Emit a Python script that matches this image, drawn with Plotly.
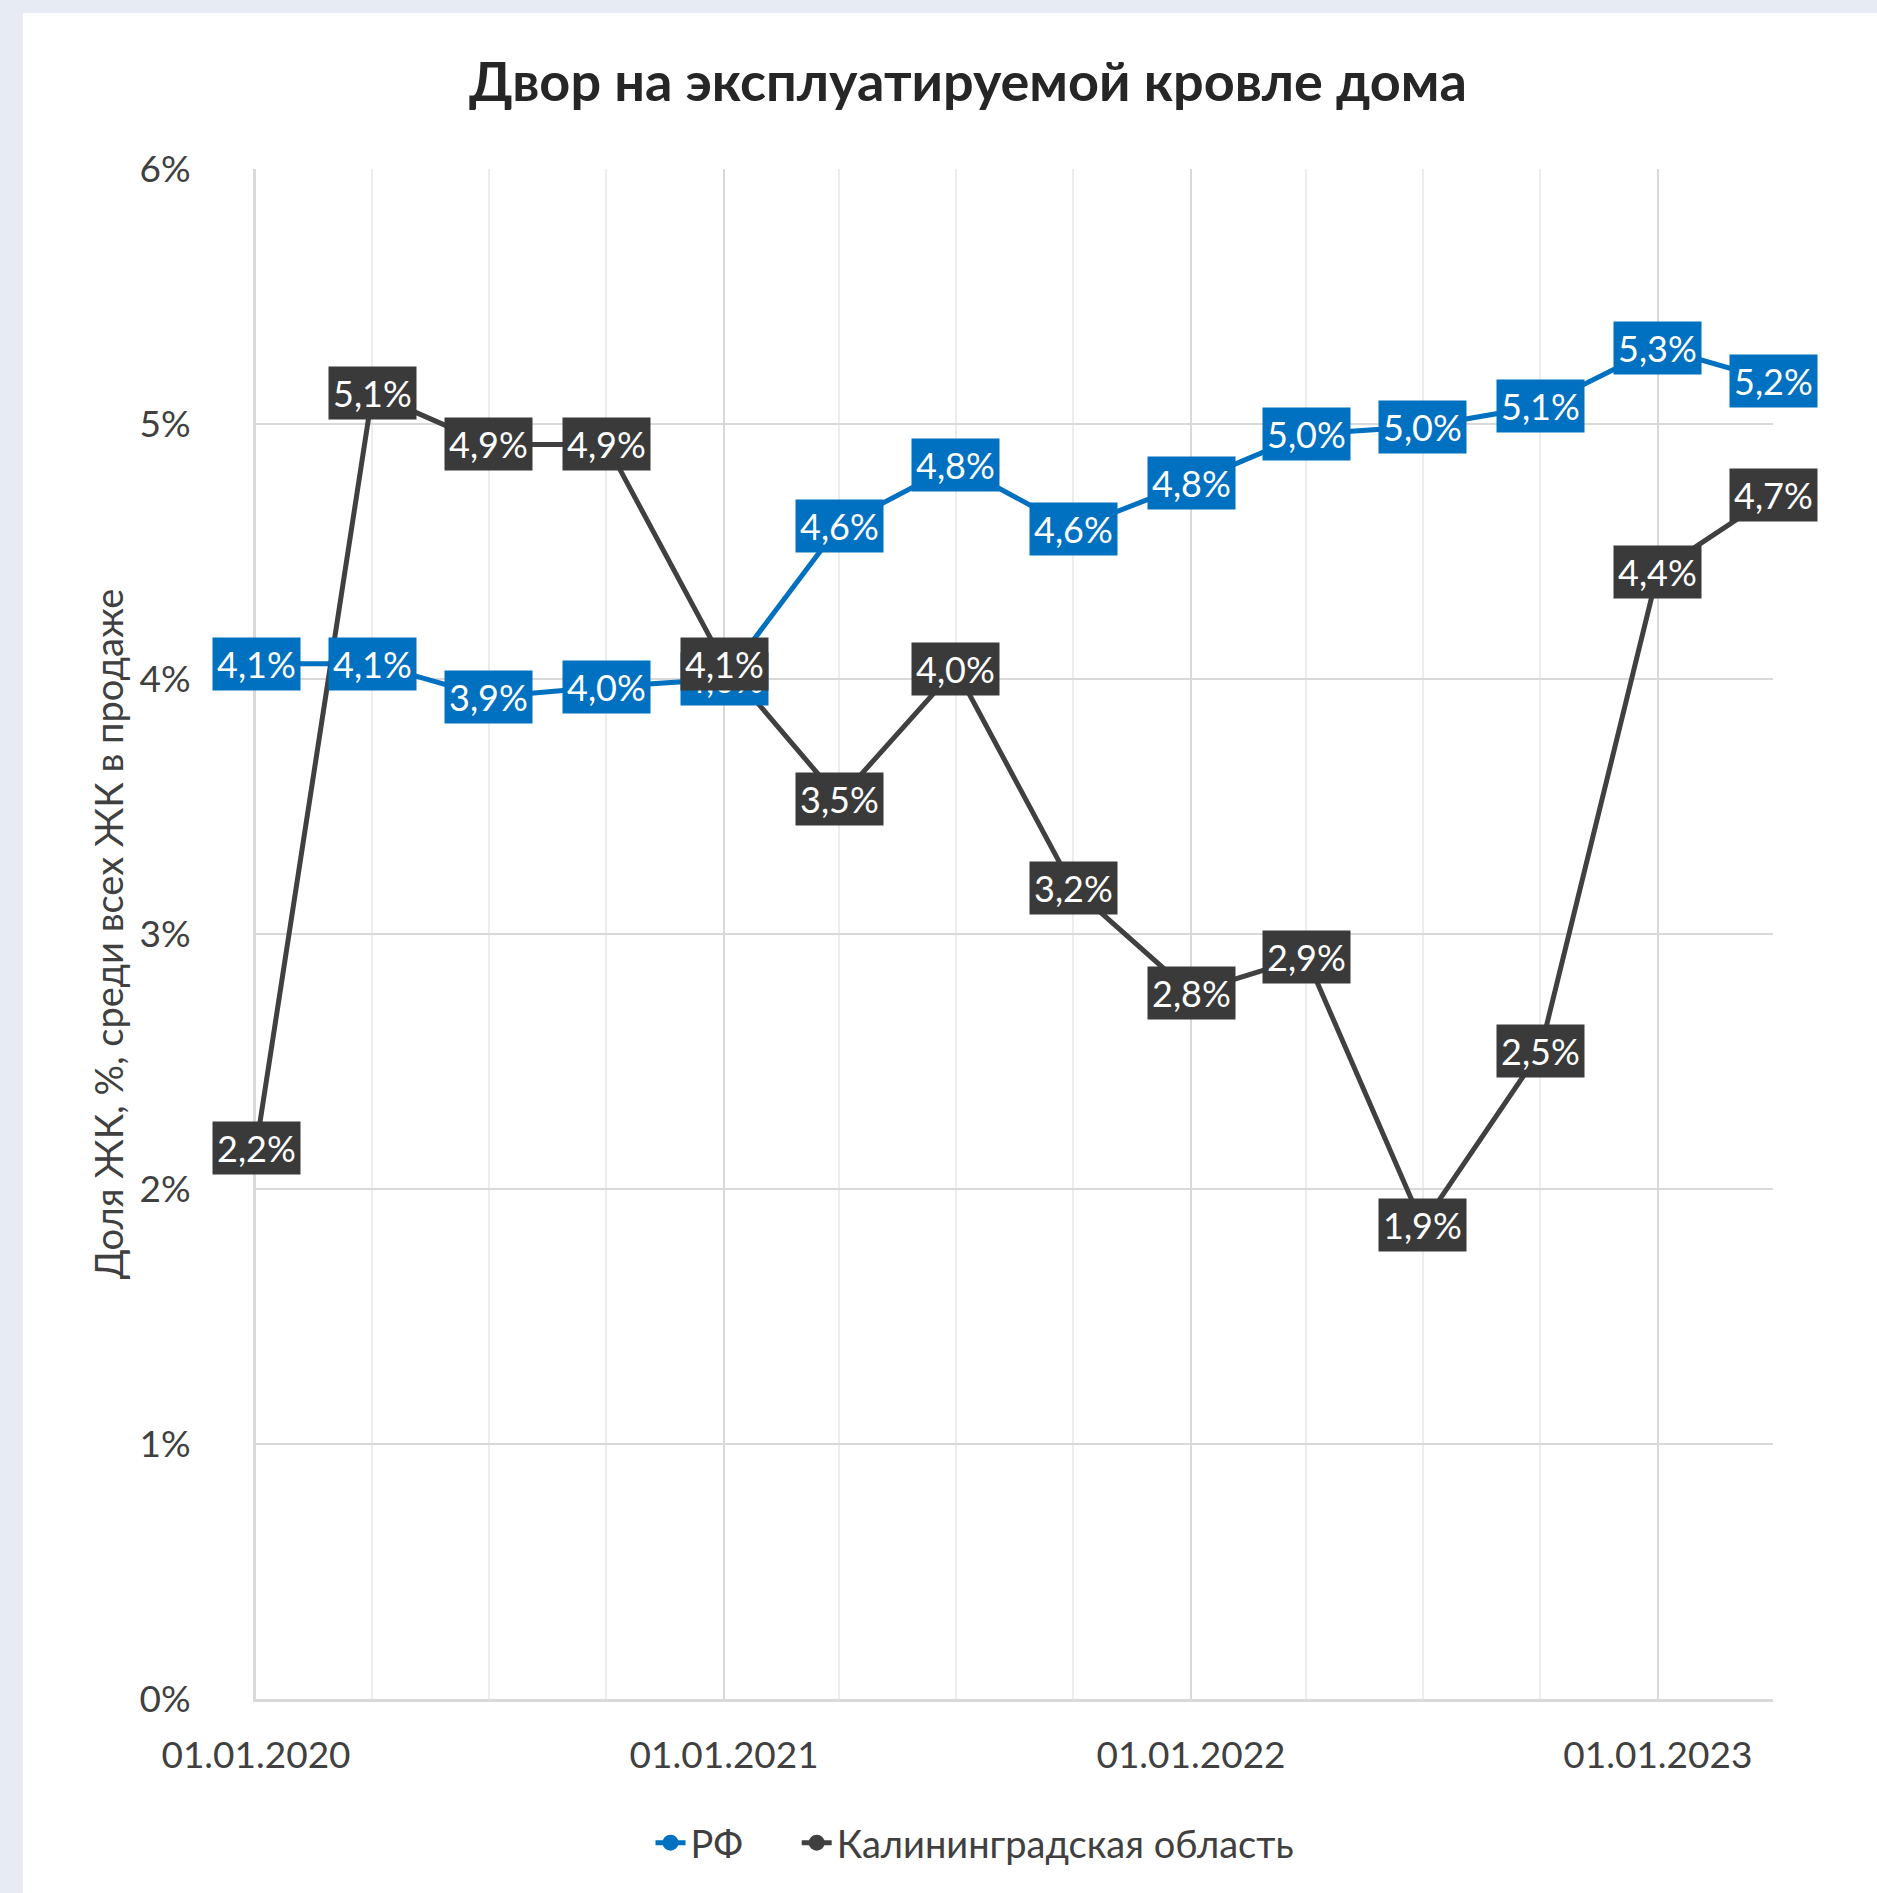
import plotly.graph_objects as go

# ---- data ----
dates = ["2020-01-01", "2020-04-01", "2020-07-01", "2020-10-01",
         "2021-01-01", "2021-04-01", "2021-07-01", "2021-10-01",
         "2022-01-01", "2022-04-01", "2022-07-01", "2022-10-01",
         "2023-01-01", "2023-04-01"]
rf = [4.06, 4.06, 3.93, 3.97, 4.00, 4.60, 4.84, 4.59, 4.77, 4.96, 4.99, 5.07, 5.30, 5.17]
kal = [2.16, 5.12, 4.92, 4.92, 4.06, 3.53, 4.04, 3.18, 2.77, 2.91, 1.86, 2.54, 4.42, 4.72]
series_names = ["РФ", "Калининградская область"]
title_text = "Двор на эксплуатируемой кровле дома"
y_title = "Доля ЖК, %, среди всех ЖК в продаже"

BLUE = "#0070C0"
DARK = "#404040"
FONT = "Lato"

W, H = 1877, 1893
ML, MR, MT, MB = 256, 104, 169, 194

fig = go.Figure()
for i, (vals, name, col) in enumerate([(rf, series_names[0], BLUE), (kal, series_names[1], DARK)]):
    fig.add_trace(go.Scatter(
        x=dates, y=vals, name=name + ("\u00a0" * 5 if i == 0 else ""),
        mode="lines+markers",
        line=dict(color=col, width=5),
        marker=dict(color=col, size=16),
        hoverinfo="skip",
    ))

def fmt(v):
    return f"{v:.1f}".replace(".", ",") + "%"

annotations = []
for vals, col in [(rf, BLUE), (kal, "#3A3A3A")]:
    for d, v in zip(dates, vals):
        annotations.append(dict(
            x=d, y=v, xref="x", yref="y", text=fmt(v), showarrow=False,
            font=dict(family=FONT, size=36, color="white"),
            bgcolor=col, borderpad=4, xanchor="center", yanchor="middle",
        ))

pw = W - ML - MR
ph = H - MT - MB
fig.add_shape(type="rect", xref="paper", yref="paper",
              x0=(23 - ML) / pw, x1=(W - ML) / pw,
              y0=-MB / ph, y1=(H - 13 - MB) / ph,
              fillcolor="white", line=dict(width=0), layer="below")

fig.update_layout(
    width=W, height=H,
    margin=dict(l=ML, r=MR, t=MT, b=MB, autoexpand=False),
    paper_bgcolor="#E7ECF4", plot_bgcolor="white",
    separators=", ",
    font=dict(family=FONT, color="#404040"),
    title=dict(text=f"<b>{title_text}</b>", x=968 / W, xanchor="center",
               y=1 - 82 / H, yanchor="middle", yref="container",
               font=dict(family=FONT, size=54, color="#262626")),
    xaxis=dict(
        type="date", range=[dates[0], dates[-1]],
        tick0=dates[0], dtick="M12", tickformat="%d.%m.%Y", tickangle=0,
        showgrid=True, gridcolor="#D9D9D9", gridwidth=2,
        minor=dict(dtick="M3", tick0=dates[0], showgrid=True, gridcolor="#EDEDED", gridwidth=2),
        showline=True, linecolor="#D9D9D9", linewidth=3,
        zeroline=False, ticks="", ticklabelstandoff=22,
        tickfont=dict(family=FONT, size=37, color="#404040"),
    ),
    yaxis=dict(
        range=[0, 6], dtick=1, ticksuffix="%",
        showgrid=True, gridcolor="#D9D9D9", gridwidth=2,
        showline=True, linecolor="#D9D9D9", linewidth=3,
        zeroline=False, ticks="", ticklabelstandoff=55,
        tickfont=dict(family=FONT, size=37, color="#404040"),
        title=dict(text=y_title, standoff=5,
                   font=dict(family=FONT, size=38, color="#404040")),
    ),
    legend=dict(orientation="h", x=(975 - ML) / pw, xanchor="center",
                y=-(1843 - (H - MB)) / ph, yanchor="middle",
                font=dict(family=FONT, size=38, color="#404040"),
                bgcolor="rgba(0,0,0,0)"),
    annotations=annotations,
    showlegend=True,
)

fig.write_html("out.html", config={"displayModeBar": False},
               post_script="document.body.style.margin='0';document.body.style.padding='0';")
